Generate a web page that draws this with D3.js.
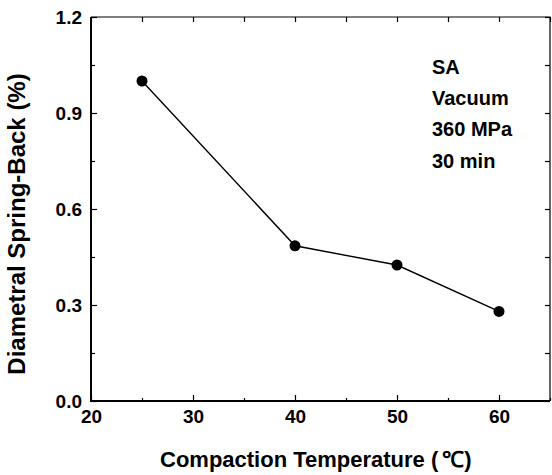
<!DOCTYPE html>
<html lang="en">
<head>
<meta charset="UTF-8">
<title>Diametral Spring-Back</title>
<script src="https://d3js.org/d3.v7.min.js"></script>
<style>
  body { margin: 0; background: #fff; }
  text { font-family: Arial, "Liberation Sans", sans-serif; font-weight: bold; fill: #000; }
</style>
</head>
<body>
<div id="chart"></div>
<script>
// data
const temps = [25, 40, 50, 60];
const springBack = [1.0, 0.485, 0.425, 0.28];
const xTicks = [20, 30, 40, 50, 60];
const xMinor = [25, 35, 45, 55, 65];
const yTicks = [0.0, 0.3, 0.6, 0.9, 1.2];
const yMinor = [0.15, 0.45, 0.75, 1.05];
const notes = ["SA", "Vacuum", "360 MPa", "30 min"];

const width = 552, height = 475;
const mLeft = 91, mRight = 550, mTop = 17, mBottom = 401;

const svg = d3.select("#chart").append("svg")
    .attr("width", width)
    .attr("height", height);

const x = d3.scaleLinear().domain([20, 65]).range([mLeft, mRight]);
const y = d3.scaleLinear().domain([0, 1.2]).range([mBottom, mTop]);

// tick marks point inward on all four sides
function ticks(axisFn, vals, size, transform, fmt) {
    const g = svg.append("g")
        .attr("transform", transform)
        .call(axisFn.tickValues(vals).tickSizeInner(size).tickSizeOuter(0)
            .tickFormat(fmt || ""));
    g.select(".domain").remove();
    g.selectAll("line").attr("stroke", "#000").attr("stroke-width", 1.2);
    return g;
}

const bx = ticks(d3.axisBottom(x), xTicks, -6, `translate(0,${mBottom})`, d3.format("d"));
bx.selectAll("text").attr("font-size", 19).attr("dy", "1.0em");
ticks(d3.axisBottom(x), xMinor, -3, `translate(0,${mBottom})`);
ticks(d3.axisTop(x), xTicks.concat(xMinor), -5, `translate(0,${mTop})`);

const ly = ticks(d3.axisLeft(y), yTicks, -6, `translate(${mLeft},0)`, d3.format(".1f"));
ly.selectAll("text").attr("font-size", 19).attr("dx", -6).attr("dy", "0.36em");
ticks(d3.axisLeft(y), yMinor, -4, `translate(${mLeft},0)`);
ticks(d3.axisRight(y), yTicks.concat(yMinor), -5, `translate(${mRight},0)`);

// frame
svg.append("path")
    .attr("d", `M${mLeft},${mTop}H${mRight}V${mBottom}`)
    .attr("fill", "none").attr("stroke", "#000").attr("stroke-width", 1.2);
svg.append("path")
    .attr("d", `M${mLeft},${mTop}V${mBottom}H${mRight}`)
    .attr("fill", "none").attr("stroke", "#000").attr("stroke-width", 2);

const pts = temps.map((t, i) => [t, springBack[i]]);

svg.append("path")
    .datum(pts)
    .attr("fill", "none")
    .attr("stroke", "#000")
    .attr("stroke-width", 1.4)
    .attr("d", d3.line().x(d => x(d[0])).y(d => y(d[1])));

svg.selectAll("circle.pt")
    .data(pts)
    .enter().append("circle")
    .attr("class", "pt")
    .attr("cx", d => x(d[0]))
    .attr("cy", d => y(d[1]))
    .attr("r", 5.5)
    .attr("fill", "#000");

svg.selectAll("text.note")
    .data(notes)
    .enter().append("text")
    .attr("class", "note")
    .attr("x", 432)
    .attr("y", (d, i) => 74 + i * 31.2)
    .attr("font-size", 20)
    .text(d => d);

const xt = svg.append("text")
    .attr("x", 160)
    .attr("y", 467)
    .attr("font-size", 22);
xt.append("tspan").text("Compaction Temperature (");
xt.append("tspan").attr("dx", 4).text("\u2103");
xt.append("tspan").text(")");

svg.append("text")
    .attr("transform", `translate(25,224) rotate(-90)`)
    .attr("text-anchor", "middle")
    .attr("font-size", 24)
    .text("Diametral Spring-Back (%)");
</script>
</body>
</html>
